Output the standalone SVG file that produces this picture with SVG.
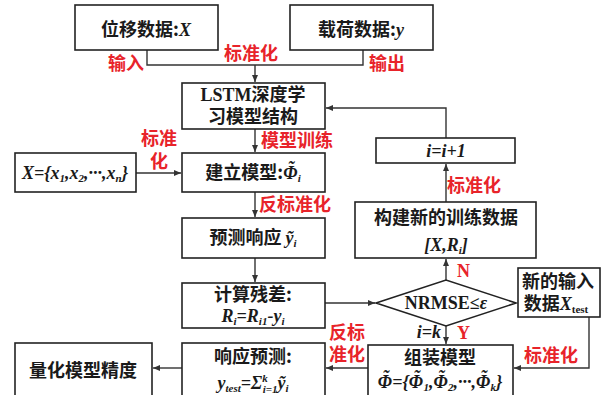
<svg xmlns="http://www.w3.org/2000/svg" width="603" height="395" viewBox="0 0 603 395">
<style>
.box{fill:#fff;stroke:#222;stroke-width:1.6}
.ln{stroke:#333;stroke-width:1.4;fill:none}
.t{font-family:"Noto Sans CJK SC",sans-serif;font-weight:bold;font-size:18px;fill:#1a1a1a;text-anchor:middle}
.r{font-family:"Noto Sans CJK SC",sans-serif;font-weight:bold;font-size:18px;fill:#e8232a}
.m{font-family:"Liberation Serif",serif;font-style:italic;font-weight:bold}
.n{font-family:"Liberation Serif",serif;font-weight:bold}
.s{font-size:11px}
</style>
<defs>
<marker id="a" markerWidth="8" markerHeight="8" refX="7" refY="4" orient="auto" markerUnits="userSpaceOnUse">
<path d="M0,1 L7,4 L0,7 Z" fill="#333"/>
</marker>
</defs>
<rect width="603" height="395" fill="#fff"/>
<g id="connectors">
<path class="ln" d="M147,50 V65 H363 V50"/>
<path class="ln" d="M255,65 V82" marker-end="url(#a)"/>
<path class="ln" d="M255,129 V152" marker-end="url(#a)"/>
<path class="ln" d="M136,173 H181" marker-end="url(#a)"/>
<path class="ln" d="M255,192 V217" marker-end="url(#a)"/>
<path class="ln" d="M255,258 V282" marker-end="url(#a)"/>
<path class="ln" d="M325,303 H375" marker-end="url(#a)"/>
<path class="ln" d="M446,280 V259" marker-end="url(#a)"/>
<path class="ln" d="M446,202 V164" marker-end="url(#a)"/>
<path class="ln" d="M446,138 V108 H326" marker-end="url(#a)"/>
<path class="ln" d="M446,326 V344" marker-end="url(#a)"/>
<path class="ln" d="M589,317 V368 H514" marker-end="url(#a)"/>
<path class="ln" d="M368,368 H326" marker-end="url(#a)"/>
<path class="ln" d="M182,368 H153" marker-end="url(#a)"/>
</g>
<g id="labels">
<text class="r" x="126" y="70" text-anchor="middle">输入</text>
<text class="r" x="251" y="60" text-anchor="middle">标准化</text>
<text class="r" x="387" y="70" text-anchor="middle">输出</text>
<text class="r" x="261" y="147">模型训练</text>
<text class="r" x="159" y="145" text-anchor="middle">标准</text>
<text class="r" x="159" y="168" text-anchor="middle">化</text>
<text class="r" x="259" y="211">反标准化</text>
<text class="r" x="447" y="192">标准化</text>
<text class="r n" x="457" y="277" font-size="17">N</text>
<text class="r n" x="457" y="339" font-size="17">Y</text>
<text class="t m" x="429" y="338" text-anchor="end" font-size="17">i=k</text>
<text class="r" x="347" y="339" text-anchor="middle">反标</text>
<text class="r" x="347" y="361" text-anchor="middle">准化</text>
<text class="r" x="551" y="362" text-anchor="middle">标准化</text>
</g>
<g id="n1"><rect class="box" x="75" y="5" width="143" height="45"/><text class="t" x="146" y="36">位移数据:<tspan class="m">X</tspan></text></g>
<g id="n2"><rect class="box" x="290" y="5" width="143" height="45"/><text class="t" x="361" y="36">载荷数据:<tspan class="m">y</tspan></text></g>
<g id="n3"><rect class="box" x="182" y="83" width="143" height="46"/><text class="t" x="253" y="101"><tspan class="n">LSTM</tspan>深度学</text><text class="t" x="253" y="123">习模型结构</text></g>
<g id="n4"><rect class="box" x="15" y="153" width="121" height="39"/><text class="t m" x="75" y="179" font-size="18">X={x<tspan class="s" dy="3">1</tspan><tspan dy="-3">,x</tspan><tspan class="s" dy="3">2</tspan><tspan dy="-3">,···,x</tspan><tspan class="s" dy="3">n</tspan><tspan dy="-3">}</tspan></text></g>
<g id="n5"><rect class="box" x="182" y="153" width="143" height="39"/><text class="t" x="253" y="179">建立模型:<tspan class="m">Φ</tspan><tspan class="m" dx="-9.5" dy="-5">˜</tspan><tspan class="m s" dx="3.8" dy="8">i</tspan></text></g>
<g id="n6"><rect class="box" x="182" y="218" width="143" height="40"/><text class="t" x="253" y="244">预测响应 <tspan class="m">ỹ</tspan><tspan class="m s" dy="3">i</tspan></text></g>
<g id="n7"><rect class="box" x="182" y="283" width="143" height="45"/><text class="t" x="253" y="301">计算残差:</text><text class="t m" x="253" y="322" font-size="17">R<tspan class="s" dy="3">i</tspan><tspan dy="-3">=R</tspan><tspan class="s" dy="3">i1</tspan><tspan dy="-3">-y</tspan><tspan class="s" dy="3">i</tspan></text></g>
<g id="n8"><rect class="box" x="376" y="138" width="139" height="25"/><text class="t m" x="446" y="157" font-size="17">i=i+1</text></g>
<g id="n9"><rect class="box" x="355" y="202" width="181" height="56"/><text class="t" x="446" y="224">构建新的训练数据</text><text class="t m" x="446" y="251" font-size="18">[X,R<tspan class="s" dy="3">i</tspan><tspan dy="-3">]</tspan></text></g>
<g id="n10"><path class="box" d="M376,303 L446,280 L516,303 L446,326 Z"/><text class="t n" x="446" y="309" font-size="17">NRMSE≤<tspan class="m">ε</tspan></text></g>
<g id="n11"><rect class="box" x="518" y="268" width="82" height="49"/><text class="t" x="558" y="288">新的输入</text><text class="t" x="556" y="310">数据<tspan class="m">X</tspan><tspan class="n s" dy="3">test</tspan></text></g>
<g id="n12"><rect class="box" x="368" y="345" width="145" height="60"/><text class="t" x="440" y="364">组装模型</text><text class="t m" x="440" y="388" font-size="17">Φ<tspan dx="-9.5" dy="-5">˜</tspan><tspan dx="3.8" dy="5">={Φ</tspan><tspan dx="-9.5" dy="-5">˜</tspan><tspan class="s" dx="3.8" dy="8">1</tspan><tspan dy="-3">,Φ</tspan><tspan dx="-9.5" dy="-5">˜</tspan><tspan class="s" dx="3.8" dy="8">2</tspan><tspan dy="-3">,···,Φ</tspan><tspan dx="-9.5" dy="-5">˜</tspan><tspan class="s" dx="3.8" dy="8">k</tspan><tspan dy="-3">}</tspan></text></g>
<g id="n13"><rect class="box" x="182" y="343" width="143" height="62"/><text class="t" x="253" y="363">响应预测:</text><text class="t m" x="253" y="389" font-size="18">y<tspan class="n s" dy="3">test</tspan><tspan class="n" dy="-3">=Σ</tspan><tspan class="s" dy="-7">k</tspan><tspan class="s" dx="-5" dy="11">i=1</tspan><tspan dy="-4">ỹ</tspan><tspan class="s" dy="3">i</tspan></text></g>
<g id="n14"><rect class="box" x="15" y="343" width="137" height="62"/><text class="t" x="83" y="377">量化模型精度</text></g>
</svg>
